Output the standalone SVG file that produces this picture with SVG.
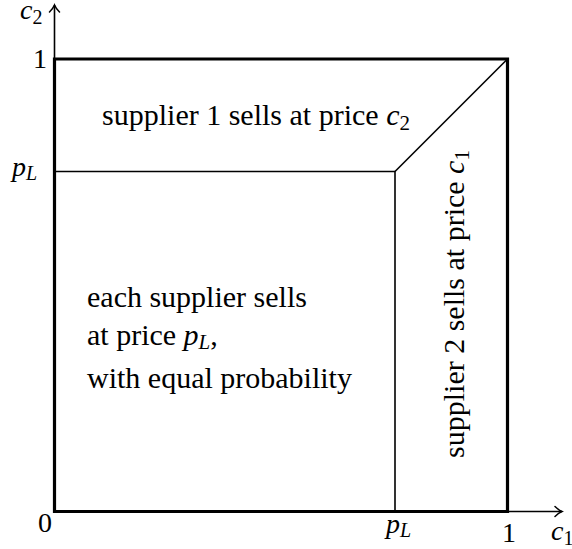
<svg xmlns="http://www.w3.org/2000/svg" width="572" height="549" viewBox="0 0 572 549">
<defs>
  <marker id="arr" markerUnits="userSpaceOnUse" viewBox="-10 -7 12 14" markerWidth="12" markerHeight="14" refX="0" refY="0" orient="auto">
    <path d="M-7,-5 C-4.5,-2.5 -2,-0.8 0,0 C-2,0.8 -4.5,2.5 -7,5" stroke="#000" stroke-width="1.5" fill="none" stroke-linecap="round"/>
  </marker>
</defs>
<g id="connectors" stroke="#000" fill="none">
  <path stroke-width="1.6" d="M54.5,511.5 H562" marker-end="url(#arr)"/>
  <path stroke-width="1.6" d="M54.5,511.5 V5" marker-end="url(#arr)"/>
  <path stroke-width="3.2" stroke-linecap="square" d="M54.5,511.5 V59 H507.5 V511.5 Z"/>
  <path stroke-width="1.6" d="M54.5,171.5 H395 V511.5"/>
  <path stroke-width="1.6" d="M395,171.5 L507.5,59"/>
</g>
<g id="axis-labels" fill="#000">
  <text x="20" y="19" font-family="Liberation Serif" font-size="28"><tspan font-style="italic">c</tspan><tspan font-size="20" dy="5">2</tspan></text>
  <text x="47" y="68" text-anchor="end" font-family="Liberation Serif" font-size="28">1</text>
  <text x="12" y="176" font-family="Liberation Serif" font-size="28"><tspan font-style="italic">p</tspan><tspan font-style="italic" font-size="20" dy="4">L</tspan></text>
  <text x="38" y="532" font-family="Liberation Serif" font-size="28">0</text>
  <text x="386" y="533" font-family="Liberation Serif" font-size="28"><tspan font-style="italic">p</tspan><tspan font-style="italic" font-size="20" dy="4">L</tspan></text>
  <text x="502" y="542" font-family="Liberation Serif" font-size="28">1</text>
  <text x="551" y="540" font-family="Liberation Serif" font-size="28"><tspan font-style="italic">c</tspan><tspan font-size="20" dy="5">1</tspan></text>
</g>
<g id="region-supplier1" fill="#000">
  <text x="256" y="125" text-anchor="middle" font-family="Liberation Serif" font-size="30"><tspan>supplier 1 sells at price </tspan><tspan font-style="italic">c</tspan><tspan font-size="21" dy="5">2</tspan></text>
</g>
<g id="region-equal" fill="#000">
  <text x="87" y="307" font-family="Liberation Serif" font-size="30">each supplier sells</text>
  <text x="87" y="345" font-family="Liberation Serif" font-size="30">at price <tspan font-style="italic">p</tspan><tspan font-style="italic" font-size="21" dy="4">L</tspan><tspan dy="-4">,</tspan></text>
  <text x="87" y="388" font-family="Liberation Serif" font-size="30">with equal probability</text>
</g>
<g id="region-supplier2" fill="#000">
  <text transform="translate(464,304) rotate(-90)" text-anchor="middle" font-family="Liberation Serif" font-size="30"><tspan>supplier 2 sells at price </tspan><tspan font-style="italic">c</tspan><tspan font-size="21" dy="5">1</tspan></text>
</g>
</svg>
